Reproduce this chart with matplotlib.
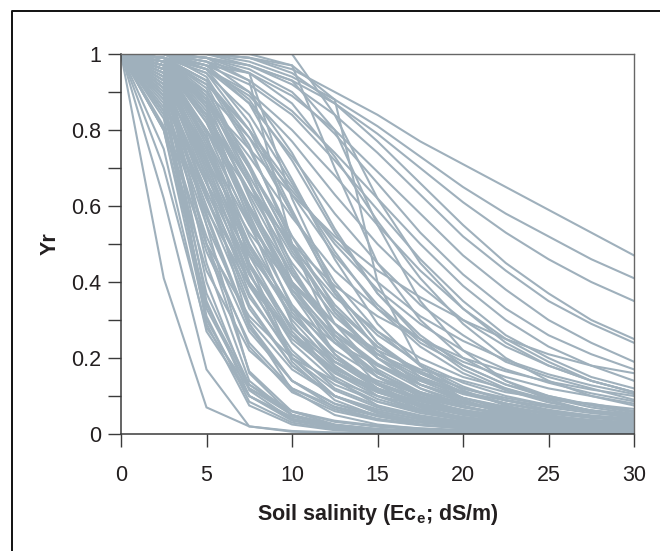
import matplotlib
matplotlib.use("Agg")
import matplotlib.pyplot as plt
from matplotlib.lines import Line2D

salinity = [0, 2.5, 5, 7.5, 10, 12.5, 15, 17.5, 20, 22.5, 25, 27.5, 30]

# tolerant crops, still well above zero at 30 dS/m
yr_slow = [
    [1, 1, 1, 0.99, 0.96, 0.90, 0.84, 0.77, 0.71, 0.65, 0.59, 0.53, 0.47],
    [1, 1, 1, 0.98, 0.94, 0.88, 0.81, 0.73, 0.65, 0.58, 0.52, 0.46, 0.41],
    [1, 1, 0.99, 0.97, 0.93, 0.87, 0.79, 0.70, 0.61, 0.53, 0.46, 0.40, 0.35],
    [1, 1, 1, 0.99, 0.95, 0.87, 0.77, 0.66, 0.55, 0.45, 0.37, 0.30, 0.25],
    [1, 1, 0.99, 0.97, 0.92, 0.84, 0.74, 0.63, 0.52, 0.43, 0.35, 0.29, 0.24],
    [1, 1, 0.98, 0.95, 0.89, 0.80, 0.69, 0.58, 0.47, 0.38, 0.30, 0.24, 0.19],
    [1, 1, 0.99, 0.96, 0.90, 0.79, 0.66, 0.53, 0.42, 0.33, 0.26, 0.21, 0.17],
    [1, 1, 0.98, 0.93, 0.85, 0.74, 0.62, 0.50, 0.39, 0.30, 0.23, 0.18, 0.14],
    [1, 0.99, 0.97, 0.92, 0.84, 0.72, 0.59, 0.46, 0.35, 0.26, 0.20, 0.15, 0.12],
    [1, 0.99, 0.96, 0.90, 0.80, 0.68, 0.55, 0.43, 0.33, 0.25, 0.19, 0.14, 0.11],
]

# moderately tolerant crops
yr_mid = [
    [1, 0.99, 0.93, 0.80, 0.63, 0.47, 0.34, 0.24, 0.18, 0.13, 0.10, 0.077, 0.06],
    [1, 0.99, 0.96, 0.87, 0.73, 0.58, 0.45, 0.34, 0.26, 0.19, 0.15, 0.12, 0.09],
    [1, 1, 0.96, 0.82, 0.59, 0.37, 0.22, 0.13, 0.09, 0.055, 0.036, 0.025, 0.018],
    [1, 0.96, 0.87, 0.75, 0.63, 0.52, 0.43, 0.36, 0.30, 0.25, 0.21, 0.18, 0.16],
    [1, 0.98, 0.89, 0.70, 0.50, 0.34, 0.23, 0.16, 0.11, 0.08, 0.06, 0.046, 0.036],
    [1, 0.97, 0.88, 0.73, 0.57, 0.43, 0.33, 0.25, 0.19, 0.15, 0.12, 0.10, 0.08],
    [1, 0.96, 0.84, 0.66, 0.49, 0.36, 0.27, 0.20, 0.15, 0.12, 0.09, 0.08, 0.06],
    [1, 1, 0.97, 0.87, 0.67, 0.46, 0.29, 0.18, 0.115, 0.075, 0.05, 0.035, 0.025],
    [1, 1, 0.96, 0.89, 0.77, 0.63, 0.50, 0.39, 0.30, 0.23, 0.18, 0.14, 0.11],
    [1, 1, 0.99, 0.95, 0.87, 0.73, 0.56, 0.41, 0.29, 0.20, 0.14, 0.10, 0.075],
    [1, 0.99, 0.95, 0.84, 0.66, 0.48, 0.33, 0.23, 0.16, 0.115, 0.083, 0.062, 0.047],
    [1, 0.98, 0.92, 0.80, 0.65, 0.50, 0.38, 0.29, 0.22, 0.17, 0.135, 0.107, 0.086],
    [1, 1, 0.98, 0.90, 0.74, 0.54, 0.37, 0.25, 0.17, 0.12, 0.085, 0.062, 0.046],
    [1, 0.99, 0.93, 0.78, 0.58, 0.40, 0.27, 0.18, 0.125, 0.088, 0.064, 0.047, 0.036],
    [1, 0.97, 0.90, 0.78, 0.64, 0.51, 0.40, 0.31, 0.245, 0.195, 0.157, 0.128, 0.105],
    [1, 1, 0.97, 0.88, 0.72, 0.53, 0.37, 0.26, 0.18, 0.13, 0.095, 0.07, 0.053],
]

# sensitive crops, the bulk of the bundle
yr_fast = [
    [1, 0.80, 0.34, 0.13, 0.06, 0.032, 0.019, 0.012, 0.008, 0.006, 0.004, 0.003, 0.002],
    [1, 0.89, 0.50, 0.23, 0.11, 0.06, 0.036, 0.023, 0.015, 0.011, 0.008, 0.006, 0.005],
    [1, 0.93, 0.63, 0.34, 0.18, 0.10, 0.06, 0.039, 0.026, 0.019, 0.014, 0.010, 0.008],
    [1, 0.96, 0.73, 0.45, 0.26, 0.15, 0.092, 0.06, 0.041, 0.029, 0.022, 0.016, 0.013],
    [1, 0.97, 0.80, 0.55, 0.34, 0.21, 0.13, 0.087, 0.06, 0.043, 0.032, 0.024, 0.019],
    [1, 0.98, 0.85, 0.63, 0.42, 0.27, 0.18, 0.12, 0.084, 0.06, 0.045, 0.034, 0.026],
    [1, 0.80, 0.50, 0.31, 0.20, 0.14, 0.10, 0.075, 0.059, 0.047, 0.038, 0.032, 0.027],
    [1, 0.89, 0.66, 0.47, 0.33, 0.24, 0.18, 0.14, 0.11, 0.088, 0.073, 0.061, 0.052],
    [1, 0.94, 0.80, 0.64, 0.50, 0.39, 0.31, 0.25, 0.20, 0.165, 0.138, 0.117, 0.10],
    [1, 0.94, 0.50, 0.165, 0.059, 0.025, 0.012, 0.007, 0.004, 0.003, 0.002, 0.001, 0.001],
    [1, 0.97, 0.67, 0.29, 0.115, 0.05, 0.025, 0.014, 0.008, 0.005, 0.003, 0.002, 0.002],
    [1, 0.99, 0.87, 0.56, 0.29, 0.144, 0.075, 0.042, 0.025, 0.016, 0.010, 0.007, 0.005],
    [1, 1, 0.94, 0.76, 0.50, 0.29, 0.165, 0.096, 0.059, 0.038, 0.025, 0.017, 0.012],
    [1, 0.91, 0.57, 0.28, 0.14, 0.079, 0.047, 0.030, 0.020, 0.014, 0.011, 0.008, 0.006],
    [1, 0.95, 0.69, 0.39, 0.22, 0.12, 0.075, 0.049, 0.033, 0.024, 0.017, 0.013, 0.010],
    [1, 0.96, 0.77, 0.50, 0.30, 0.18, 0.11, 0.073, 0.050, 0.036, 0.026, 0.020, 0.015],
    [1, 0.98, 0.83, 0.59, 0.38, 0.24, 0.15, 0.10, 0.071, 0.051, 0.038, 0.029, 0.022],
    [1, 0.85, 0.59, 0.39, 0.26, 0.19, 0.14, 0.105, 0.083, 0.066, 0.054, 0.045, 0.038],
    [1, 0.91, 0.72, 0.53, 0.39, 0.29, 0.22, 0.17, 0.14, 0.11, 0.093, 0.078, 0.066],
    [1, 0.98, 0.79, 0.43, 0.19, 0.089, 0.047, 0.025, 0.015, 0.009, 0.006, 0.004, 0.003],
    [1, 0.99, 0.91, 0.67, 0.40, 0.21, 0.115, 0.064, 0.039, 0.025, 0.017, 0.011, 0.008],
    [1, 0.81, 0.43, 0.22, 0.12, 0.072, 0.047, 0.032, 0.024, 0.018, 0.014, 0.011, 0.009],
    [1, 0.95, 0.70, 0.42, 0.24, 0.14, 0.085, 0.055, 0.037, 0.026, 0.019, 0.014, 0.011],
    [1, 0.97, 0.78, 0.52, 0.32, 0.19, 0.12, 0.08, 0.055, 0.04, 0.03, 0.023, 0.018],
    [1, 0.92, 0.62, 0.36, 0.21, 0.13, 0.085, 0.06, 0.044, 0.034, 0.027, 0.022, 0.018],
    [1, 0.88, 0.55, 0.30, 0.17, 0.10, 0.065, 0.044, 0.031, 0.023, 0.018, 0.014, 0.011],
    [1, 0.99, 0.88, 0.62, 0.37, 0.21, 0.12, 0.07, 0.043, 0.028, 0.019, 0.013, 0.009],
    [1, 0.98, 0.82, 0.57, 0.37, 0.24, 0.16, 0.11, 0.08, 0.06, 0.046, 0.036, 0.029],
    [1, 0.93, 0.68, 0.44, 0.28, 0.19, 0.13, 0.095, 0.071, 0.055, 0.044, 0.036, 0.030],
    [1, 0.96, 0.75, 0.49, 0.31, 0.20, 0.135, 0.095, 0.07, 0.053, 0.041, 0.033, 0.027],
    [1, 0.90, 0.60, 0.33, 0.18, 0.10, 0.06, 0.038, 0.025, 0.018, 0.013, 0.01, 0.008],
    [1, 0.97, 0.84, 0.64, 0.45, 0.31, 0.21, 0.15, 0.11, 0.08, 0.06, 0.047, 0.037],
    [1, 0.99, 0.90, 0.71, 0.49, 0.32, 0.20, 0.13, 0.085, 0.057, 0.04, 0.028, 0.02],
    [1, 0.94, 0.74, 0.50, 0.33, 0.22, 0.15, 0.11, 0.08, 0.06, 0.047, 0.037, 0.03],
    [1, 0.99, 0.93, 0.75, 0.52, 0.33, 0.20, 0.12, 0.075, 0.048, 0.032, 0.022, 0.015],
    [1, 0.96, 0.80, 0.60, 0.42, 0.29, 0.20, 0.145, 0.105, 0.08, 0.062, 0.049, 0.04],
    [1, 0.98, 0.86, 0.66, 0.47, 0.33, 0.23, 0.165, 0.12, 0.09, 0.07, 0.055, 0.044],
    [1, 0.93, 0.72, 0.48, 0.31, 0.20, 0.13, 0.09, 0.063, 0.046, 0.035, 0.027, 0.021],
    [1, 0.97, 0.76, 0.47, 0.27, 0.16, 0.10, 0.065, 0.045, 0.032, 0.024, 0.018, 0.014],
    [1, 0.94, 0.66, 0.37, 0.20, 0.115, 0.07, 0.045, 0.03, 0.022, 0.016, 0.012, 0.009],
    [1, 0.99, 0.86, 0.58, 0.33, 0.18, 0.10, 0.06, 0.037, 0.024, 0.016, 0.011, 0.008],
    [1, 0.90, 0.64, 0.40, 0.25, 0.16, 0.11, 0.08, 0.06, 0.047, 0.038, 0.031, 0.026],
    [1, 0.95, 0.78, 0.56, 0.38, 0.26, 0.18, 0.13, 0.095, 0.072, 0.056, 0.044, 0.036],
    [1, 0.98, 0.88, 0.68, 0.48, 0.32, 0.21, 0.14, 0.095, 0.066, 0.047, 0.034, 0.025],
    [1, 0.86, 0.52, 0.27, 0.14, 0.08, 0.05, 0.033, 0.023, 0.017, 0.013, 0.01, 0.008],
    [1, 0.92, 0.58, 0.29, 0.14, 0.07, 0.04, 0.024, 0.016, 0.011, 0.008, 0.006, 0.004],
    [1, 0.96, 0.72, 0.40, 0.20, 0.10, 0.055, 0.032, 0.02, 0.013, 0.009, 0.006, 0.004],
    [1, 0.99, 0.92, 0.70, 0.44, 0.26, 0.15, 0.09, 0.055, 0.035, 0.024, 0.016, 0.011],
    [1, 0.97, 0.82, 0.60, 0.40, 0.27, 0.185, 0.13, 0.095, 0.07, 0.054, 0.042, 0.034],
    [1, 0.93, 0.75, 0.55, 0.40, 0.29, 0.21, 0.16, 0.12, 0.095, 0.076, 0.062, 0.051],
    [1, 0.88, 0.62, 0.40, 0.26, 0.17, 0.12, 0.085, 0.063, 0.048, 0.038, 0.03, 0.025],
    [1, 0.98, 0.84, 0.60, 0.39, 0.25, 0.16, 0.105, 0.072, 0.051, 0.037, 0.028, 0.021],
    [1, 0.95, 0.71, 0.45, 0.28, 0.175, 0.115, 0.078, 0.055, 0.04, 0.03, 0.023, 0.018],
    [1, 0.99, 0.95, 0.80, 0.58, 0.38, 0.24, 0.15, 0.095, 0.062, 0.042, 0.029, 0.021],
    [1, 0.97, 0.87, 0.70, 0.52, 0.37, 0.26, 0.185, 0.135, 0.10, 0.076, 0.059, 0.046],
    [1, 0.91, 0.66, 0.42, 0.26, 0.165, 0.11, 0.075, 0.053, 0.039, 0.03, 0.023, 0.018],
    [1, 0.84, 0.48, 0.24, 0.12, 0.065, 0.038, 0.024, 0.016, 0.011, 0.008, 0.006, 0.005],
    [1, 0.99, 0.89, 0.66, 0.43, 0.27, 0.17, 0.11, 0.072, 0.049, 0.035, 0.025, 0.018],
]

# very sensitive crops, gone before 10 dS/m
yr_steep = [
    [1, 0.91, 0.40, 0.115, 0.039, 0.017, 0.008, 0.005, 0.003, 0.002, 0.001, 0.001, 0.001],
    [1, 0.87, 0.29, 0.075, 0.025, 0.010, 0.005, 0.003, 0.002, 0.001, 0.001, 0.001, 0.001],
    [1, 0.92, 0.35, 0.10, 0.035, 0.015, 0.007, 0.004, 0.002, 0.001, 0.001, 0.001, 0],
    [1, 0.89, 0.31, 0.085, 0.03, 0.012, 0.006, 0.003, 0.002, 0.001, 0.001, 0, 0],
    [1, 0.41, 0.07, 0.02, 0.008, 0.004, 0.002, 0.001, 0.001, 0, 0, 0, 0],
    [1, 0.62, 0.17, 0.02, 0.006, 0.003, 0.002, 0.001, 0.001, 0, 0, 0, 0],
    [1, 0.75, 0.27, 0.10, 0.045, 0.023, 0.013, 0.008, 0.005, 0.004, 0.003, 0.002, 0.002],
    [1, 0.70, 0.28, 0.12, 0.06, 0.035, 0.022, 0.015, 0.011, 0.008, 0.006, 0.005, 0.004],
    [1, 0.83, 0.33, 0.12, 0.05, 0.024, 0.013, 0.008, 0.005, 0.003, 0.002, 0.002, 0.001],
    [1, 0.80, 0.30, 0.10, 0.04, 0.02, 0.011, 0.006, 0.004, 0.003, 0.002, 0.001, 0.001],
    [1, 0.95, 0.45, 0.14, 0.05, 0.02, 0.01, 0.006, 0.004, 0.002, 0.002, 0.001, 0.001],
    [1, 0.85, 0.37, 0.13, 0.05, 0.024, 0.012, 0.007, 0.005, 0.003, 0.002, 0.002, 0.001],
    [1, 0.97, 0.55, 0.16, 0.05, 0.018, 0.008, 0.004, 0.002, 0.001, 0.001, 0.001, 0],
]

# threshold-like curves: flat, then a sharp drop
yr_kinked = [
    [1, 1, 1, 1, 1, 0.84, 0.62, 0.45, 0.33, 0.24, 0.18, 0.14, 0.11],
    [1, 1, 1, 0.99, 0.97, 0.88, 0.40, 0.18, 0.09, 0.05, 0.03, 0.02, 0.015],
    [1, 1, 0.99, 0.93, 0.50, 0.25, 0.13, 0.07, 0.04, 0.025, 0.016, 0.011, 0.008],
    [1, 0.99, 0.88, 0.45, 0.20, 0.10, 0.055, 0.033, 0.021, 0.014, 0.01, 0.007, 0.005],
    [1, 1, 0.97, 0.95, 0.62, 0.38, 0.24, 0.16, 0.11, 0.08, 0.06, 0.045, 0.035],
    [1, 1, 1, 0.97, 0.93, 0.80, 0.55, 0.35, 0.22, 0.14, 0.09, 0.06, 0.04],
    [1, 1, 1, 1, 0.97, 0.70, 0.45, 0.30, 0.20, 0.14, 0.10, 0.075, 0.057],
]

x_ticks = [0, 5, 10, 15, 20, 25, 30]
y_ticks = [0, 0.2, 0.4, 0.6, 0.8, 1]
y_ticklabels = ["0", "0.2", "0.4", "0.6", "0.8", "1"]

plt.rcParams["font.family"] = ["Liberation Sans", "DejaVu Sans"]
plt.rcParams["mathtext.fontset"] = "custom"
plt.rcParams["mathtext.rm"] = "Liberation Sans"
plt.rcParams["mathtext.bf"] = "Liberation Sans:bold"

line_col = "#9fb0bc"
text_col = "#231f20"
axis_col = "#3a3a3a"
fsize = 15.5

fig = plt.figure(figsize=(6.6, 5.51), dpi=100)
ax = fig.add_axes([121 / 660, 1 - 434 / 551, 513 / 660, 380 / 551])

for group in [yr_slow, yr_mid, yr_fast, yr_steep, yr_kinked]:
    for yr in group:
        ax.plot(salinity, yr, color=line_col, lw=1.5, solid_joinstyle="miter")

ax.set_xlim(0, 30)
ax.set_ylim(0, 1)
ax.set_xticks(x_ticks)
ax.set_xticklabels([str(t) for t in x_ticks])
ax.set_yticks(y_ticks)
ax.set_yticklabels(y_ticklabels)
ax.set_yticks([0.1, 0.3, 0.5, 0.7, 0.9], minor=True)

ax.tick_params(axis="both", which="both", direction="out", length=9.5, width=1,
               color=axis_col, labelsize=fsize, labelcolor=text_col)
ax.tick_params(axis="x", pad=13)
ax.tick_params(axis="y", pad=5)

for side in ["left", "bottom"]:
    ax.spines[side].set_color(axis_col)
    ax.spines[side].set_linewidth(1.1)
for side in ["top", "right"]:
    ax.spines[side].set_color("#666666")
    ax.spines[side].set_linewidth(1.0)

ax.set_xlabel(r"Soil salinity (Ec$_{\mathbf{e}}$; dS/m)", fontsize=fsize,
              fontweight="bold", color=text_col, labelpad=11)
ax.set_ylabel("Yr", fontsize=fsize, fontweight="bold", color=text_col, labelpad=7)

# outer frame, cut off at the right and bottom edges
fx = 12 / 660
fy = 1 - 11 / 551
fig.add_artist(Line2D([fx, fx, 1.0], [0.0, fy, fy], transform=fig.transFigure,
                      color="#111111", lw=1.4))

fig.savefig("out.png", dpi=100)
